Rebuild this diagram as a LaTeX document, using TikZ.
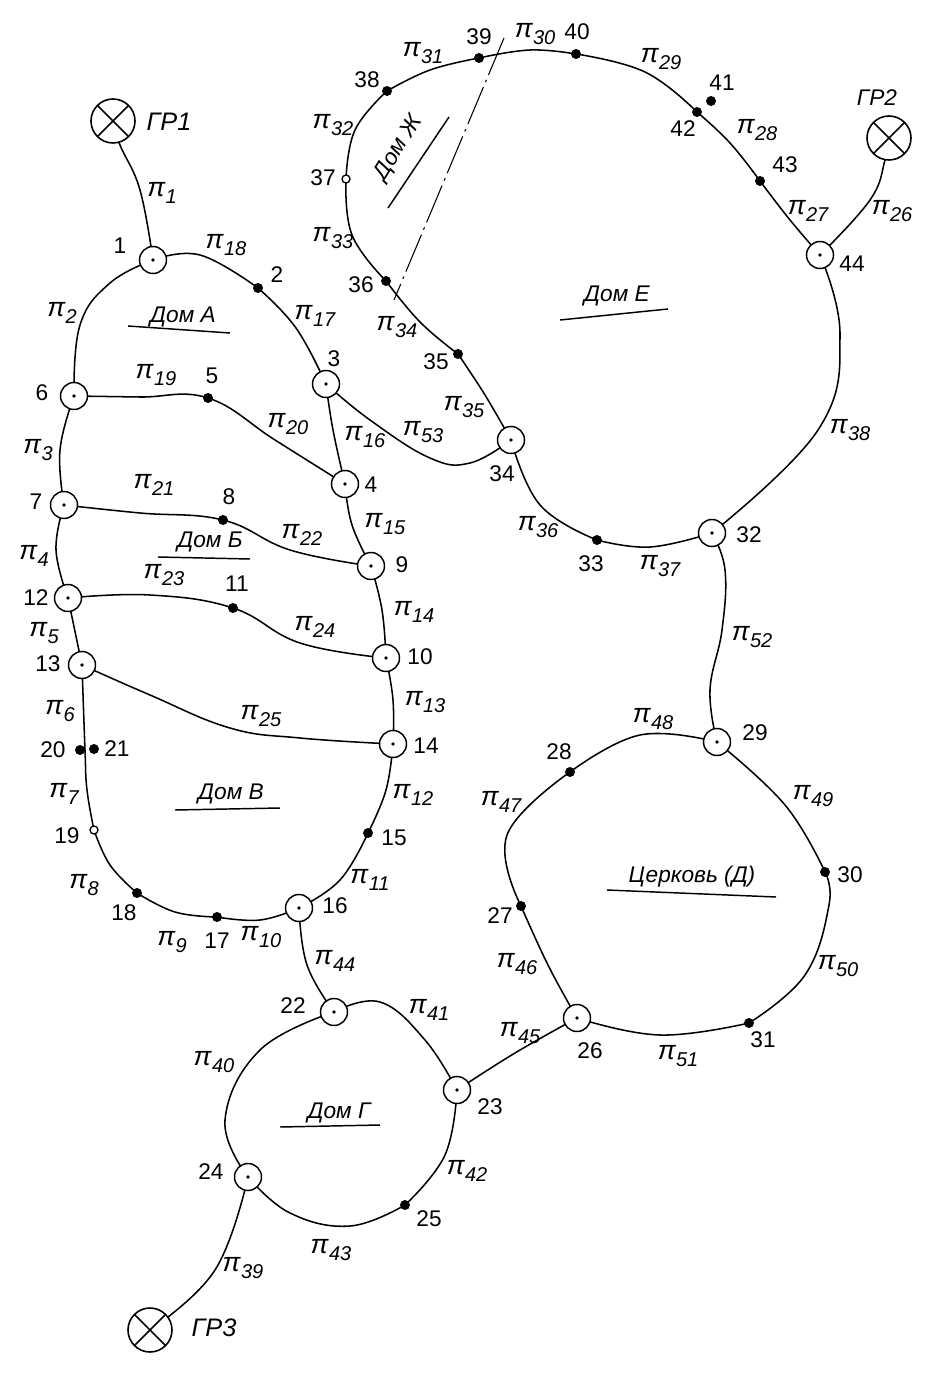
\documentclass[tikz,border=0pt]{standalone}
\usepackage{fontspec}
\setmainfont{Liberation Sans}
\usetikzlibrary{calc}
\pgfdeclarelayer{bg}
\pgfdeclarelayer{fg}
\pgfsetlayers{bg,main,fg}
\newcommand\pil[1]{\textit{π}\raisebox{-0.55ex}{\fontsize{15}{15}\selectfont\itshape #1}}
\tikzset{
  junction/.style={circle,draw,line width=1.1pt,fill=white,minimum size=27pt*0.75,inner sep=0pt,path picture={\fill[black] (path picture bounding box.center) circle (1.4pt);}},
  ptdot/.style={circle,fill=black,minimum size=7.5pt,inner sep=0pt},
  opendot/.style={circle,draw,line width=1pt,fill=white,minimum size=6pt,inner sep=0pt},
  source/.style={circle,draw,line width=1.2pt,fill=white,minimum size=33pt,inner sep=0pt,path picture={
    \draw[line width=1.2pt] (path picture bounding box.north west)--(path picture bounding box.south east)
    (path picture bounding box.north east)--(path picture bounding box.south west);}},
  num/.style={font=\fontsize{17}{20}\selectfont,inner sep=0pt},
  pil/.style={font=\fontsize{20}{20}\selectfont,inner sep=0pt},
  house/.style={font=\fontsize{17}{20}\selectfont\itshape,inner sep=0pt},
  wire/.style={line width=1.15pt},
  under/.style={line width=1.1pt},
}
\begin{document}
\begin{tikzpicture}[x=0.75pt,y=-0.75pt]
\useasboundingbox (0,0) rectangle (950,1383);
% sources
\node[source] (g1) at (113,121) {};
\node[source] (g2) at (889,138) {};
\node[source] (g3) at (150,1330) {};
% junctions
\foreach \n/\x/\y in {1/153/260,3/326/384,4/345/484,6/74/396,7/64/505,9/371/566,10/386/658,12/68/598,13/82/665,14/393/744,16/299/908,22/334/1012,23/457/1090,24/248/1177,26/577/1018,29/717/742,32/712/533,34/511/440,44/820/255}
  \node[junction] (n\n) at (\x,\y) {};
% dots
\foreach \n/\x/\y in {2/258/288,5/208/398,8/223/520,11/233/608,15/368/833,17/217/917,18/137/893,20/80/750,21/94/749,25/405/1205,27/521/906,28/570/772,30/825/872,31/749/1023,33/597/540,35/458/354,36/386/281,38/387/91,39/479/58,40/576/54,41/711/101,42/697/112,43/760/181}
  \node[ptdot] (n\n) at (\x,\y) {};
\node[opendot] (n19) at (94,830) {};
\node[opendot] (n37) at (346,179) {};
\begin{pgfonlayer}{bg}
\fill[white] (0,0) rectangle (950,1383);
\begin{scope}[wire]
\draw plot[smooth,tension=0.7] coordinates {(g1.center) (120,145) (140,190) (n1.center)};
\draw plot[smooth,tension=0.7] coordinates {(n1.center) (200,255) (n2.center)};
\draw plot[smooth,tension=0.7] coordinates {(n2.center) (296,328) (n3.center)};
\draw plot[smooth,tension=0.7] coordinates {(n3.center) (333,430) (n4.center)};
\draw plot[smooth,tension=0.7] coordinates {(n4.center) (352,525) (n9.center)};
\draw plot[smooth,tension=0.7] coordinates {(n9.center) (382,610) (n10.center)};
\draw plot[smooth,tension=0.7] coordinates {(n10.center) (393,700) (n14.center)};
\draw plot[smooth,tension=0.7] coordinates {(n14.center) (386,790) (n15.center)};
\draw plot[smooth,tension=0.7] coordinates {(n15.center) (340,880) (n16.center)};
\draw plot[smooth,tension=0.7] coordinates {(n16.center) (260,920) (n17.center)};
\draw plot[smooth,tension=0.7] coordinates {(n17.center) (175,912) (n18.center)};
\draw plot[smooth,tension=0.7] coordinates {(n18.center) (110,865) (n19.center)};
\draw plot[smooth,tension=0.7] coordinates {(n19.center) (87,790) (85,750) (n13.center)};
\draw (n13.center) -- (n12.center);
\draw plot[smooth,tension=0.7] coordinates {(n12.center) (56,550) (n7.center)};
\draw plot[smooth,tension=0.7] coordinates {(n7.center) (60,450) (n6.center)};
\draw plot[smooth,tension=0.7] coordinates {(n6.center) (80,325) (110,283) (n1.center)};
\draw plot[smooth,tension=0.7] coordinates {(n6.center) (140,397) (n5.center) (275,440) (n4.center)};
\draw plot[smooth,tension=0.7] coordinates {(n7.center) (140,513) (n8.center) (290,550) (n9.center)};
\draw plot[smooth,tension=0.7] coordinates {(n12.center) (150,595) (n11.center) (300,643) (n10.center)};
\draw plot[smooth,tension=0.7] coordinates {(n13.center) (150,695) (230,728) (300,738) (n14.center)};
\draw plot[smooth,tension=0.7] coordinates {(n3.center) (370,420) (430,458) (470,463) (n34.center)};
\draw plot[smooth,tension=0.7] coordinates {(n34.center) (485,395) (n35.center)};
\draw plot[smooth,tension=0.7] coordinates {(n35.center) (420,322) (n36.center)};
\draw plot[smooth,tension=0.7] coordinates {(n36.center) (352,235) (n37.center)};
\draw plot[smooth,tension=0.7] coordinates {(n37.center) (355,130) (n38.center)};
\draw plot[smooth,tension=0.7] coordinates {(n38.center) (430,70) (n39.center)};
\draw plot[smooth,tension=0.7] coordinates {(n39.center) (530,50) (n40.center)};
\draw plot[smooth,tension=0.7] coordinates {(n40.center) (645,72) (n42.center)};
\draw plot[smooth,tension=0.7] coordinates {(n42.center) (730,143) (n43.center)};
\draw plot[smooth,tension=0.7] coordinates {(n43.center) (790,220) (n44.center)};
\draw plot[smooth,tension=0.7] coordinates {(n44.center) (840,335) (818,430) (n32.center)};
\draw plot[smooth,tension=0.7] coordinates {(n34.center) (540,505) (n33.center)};
\draw plot[smooth,tension=0.7] coordinates {(n33.center) (650,547) (n32.center)};
\draw plot[smooth,tension=0.7] coordinates {(n32.center) (725,570) (722,630) (710,690) (n29.center)};
\draw plot[smooth,tension=0.7] coordinates {(n29.center) (640,735) (n28.center)};
\draw plot[smooth,tension=0.7] coordinates {(n28.center) (507,835) (n27.center)};
\draw plot[smooth,tension=0.7] coordinates {(n27.center) (548,965) (n26.center)};
\draw plot[smooth,tension=0.7] coordinates {(n26.center) (660,1035) (n31.center)};
\draw plot[smooth,tension=0.7] coordinates {(n31.center) (805,975) (829,905) (n30.center)};
\draw plot[smooth,tension=0.7] coordinates {(n30.center) (785,805) (n29.center)};
\draw plot[smooth,tension=0.7] coordinates {(n16.center) (307,965) (n22.center)};
\draw plot[smooth,tension=0.7] coordinates {(n22.center) (380,1002) (425,1040) (n23.center)};
\draw plot[smooth,tension=0.7] coordinates {(n22.center) (260,1050) (225,1120) (n24.center)};
\draw plot[smooth,tension=0.7] coordinates {(n24.center) (290,1213) (350,1226) (n25.center)};
\draw plot[smooth,tension=0.7] coordinates {(n25.center) (445,1155) (n23.center)};
\draw plot[smooth,tension=0.7] coordinates {(n23.center) (515,1053) (n26.center)};
\draw plot[smooth,tension=0.7] coordinates {(n24.center) (215,1270) (g3.center)};
\draw plot[smooth,tension=0.7] coordinates {(g2.center) (885,160) (870,200) (n44.center)};
\end{scope}
\end{pgfonlayer}
% dash-dot line
\coordinate (da) at (504,38); \coordinate (db) at (394,300);
\draw[line width=0.8pt,dash pattern=on 30pt off 4pt on 2pt off 4pt] (da) -- (db);
% number labels
\foreach \t/\x/\y in {1/120/246,2/277/275,3/334/359,4/371/485,5/212/376,6/42/393,7/36/502,8/229/497,9/402/565,10/420/657,11/237/584,12/36/598,13/48/664,14/426/746,15/394/838,16/335/906,17/217/941,18/124/913,19/67/836,20/53/750,21/117/749,22/293/1006,23/490/1107,24/211/1172,25/429/1219,26/590/1051,27/500/916,28/559/752,29/755/733,30/850/875,31/763/1040,32/749/535,33/591/564,34/502/474,35/436/362,36/361/285,37/323/178,38/367/80,39/479/37,40/577/32,41/722/83,42/683/129,43/785/165,44/852/264}
  \node[num] (t\t) at (\x,\y) {\t};
% pi labels
\foreach \t/\x/\y in {1/162/193,2/62/313,3/38/450,4/34/556,5/44/633,6/60/711,7/64/794,8/84/885,9/172/942,10/261/937,11/370/880,12/413/795,13/425/702,14/414/612,15/385/524,16/365/437,17/315/316,18/226/245,19/156/375,20/288/424,21/154/485,22/302/535,23/164/575,24/315/627,25/261/716,26/892/211,27/808/211,28/757/130,29/661/59,30/535/34,31/423/53,32/333/125,33/333/238,34/397/327,35/464/407,36/538/527,37/660/566,38/850/430,39/243/1268,40/214/1062,41/429/1010,42/467/1171,43/331/1250,44/335/961,45/520/1033,46/517/964,47/501/802,48/653/719,49/813/796,50/838/966,51/678/1056,52/752/637,53/423/432}
  \node[pil] (p\t) at (\x,\y) {\pil{\t}};
% source labels
\node[num,font=\fontsize{19}{20}\selectfont\itshape] (lg1) at (169,122) {ГР1};
\node[num,font=\fontsize{17}{20}\selectfont\itshape] (lg2) at (877,98) {ГР2};
\node[num,font=\fontsize{19}{20}\selectfont\itshape] (lg3) at (214,1328) {ГР3};
% houses
\node[house] (ha) at (183,317) {Дом А};
\node[house] (hb) at (210,542) {Дом Б};
\node[house] (hv) at (231,794) {Дом В};
\node[house] (hg) at (339,1113) {Дом Г};
\node[house] (hd) at (692,877) {Церковь (Д)};
\node[house] (he) at (617,296) {Дом Е};
\node[house,rotate=58] (hzh) at (399,148) {Дом Ж};
\coordinate (ua1) at (128,326); \coordinate (ua2) at (230,333);
\coordinate (ub1) at (158,557); \coordinate (ub2) at (250,559);
\coordinate (uv1) at (175,810); \coordinate (uv2) at (280,808);
\coordinate (ug1) at (280,1127); \coordinate (ug2) at (380,1125);
\coordinate (ud1) at (607,890); \coordinate (ud2) at (776,897);
\coordinate (ue1) at (560,320); \coordinate (ue2) at (668,309);
\coordinate (uz1) at (388,208); \coordinate (uz2) at (449,117);
\foreach \a/\b in {ua1/ua2,ub1/ub2,uv1/uv2,ug1/ug2,ud1/ud2,ue1/ue2,uz1/uz2}
  \draw[under] (\a) -- (\b);
\end{tikzpicture}
\end{document}
